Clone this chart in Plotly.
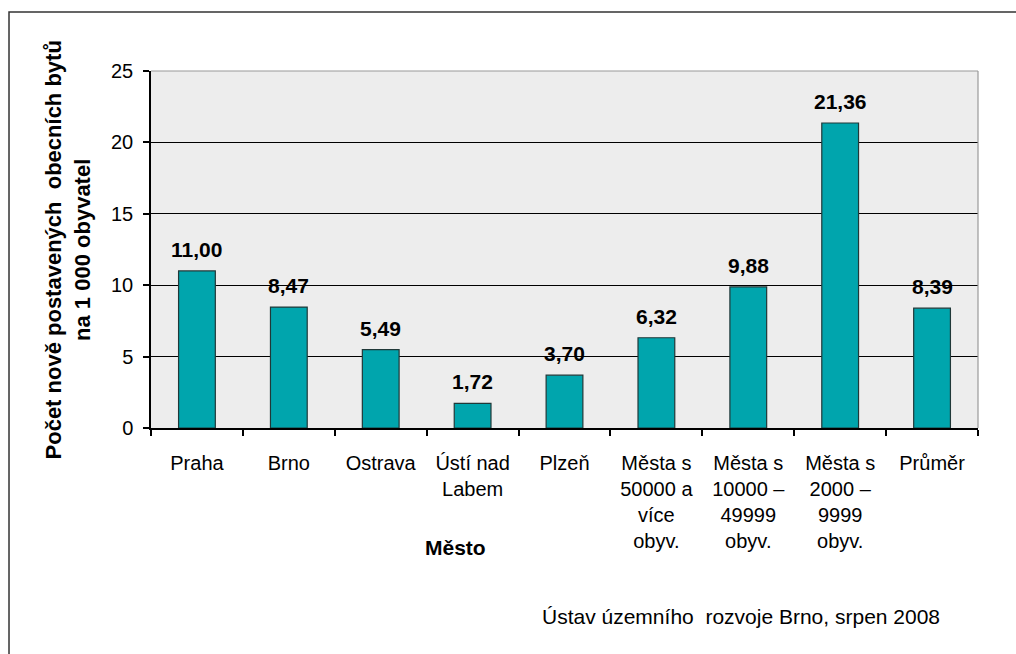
import plotly.graph_objects as go

categories = ["Praha", "Brno", "Ostrava", "Ústí nad<br>Labem", "Plzeň",
              "Města s<br>50000 a<br>více<br>obyv.",
              "Města s<br>10000 –<br>49999<br>obyv.",
              "Města s<br>2000 –<br>9999<br>obyv.",
              "Průměr"]
values = [11.00, 8.47, 5.49, 1.72, 3.70, 6.32, 9.88, 21.36, 8.39]
y_ticks = [0, 5, 10, 15, 20, 25]

labels = [f"{v:.2f}".replace(".", ",") for v in values]
FONT = "Liberation Sans, Arial, sans-serif"

fig = go.Figure()
fig.add_trace(go.Bar(
    x=categories, y=values, width=0.4,
    marker=dict(color="#00A5AD", line=dict(color="#203838", width=1.2)),
    hoverinfo="skip",
))

annotations = []
for c, v, t in zip(categories, values, labels):
    annotations.append(dict(x=c, y=v, text=f"<b>{t}</b>", showarrow=False,
                            yanchor="bottom", yshift=8,
                            font=dict(family=FONT, size=21, color="black")))
annotations.append(dict(xref="paper", yref="paper", x=-0.1004, y=0.5,
                        text="<b>Počet nově postavených  obecních bytů<br>na 1 000 obyvatel</b>",
                        textangle=-90, showarrow=False, xanchor="center", yanchor="middle",
                        font=dict(family=FONT, size=22, color="black")))
annotations.append(dict(xref="paper", yref="paper", x=0.368, y=-0.336,
                        text="<b>Město</b>", showarrow=False,
                        xanchor="center", yanchor="middle",
                        font=dict(family=FONT, size=21, color="black")))
annotations.append(dict(xref="paper", yref="paper", x=0.713, y=-0.527,
                        text="Ústav územního  rozvoje Brno, srpen 2008", showarrow=False,
                        xanchor="center", yanchor="middle",
                        font=dict(family=FONT, size=21, color="black")))

shapes = [
    dict(type="rect", xref="paper", yref="paper", x0=-0.1717, x1=1.2, y0=-0.9, y1=1.165,
         line=dict(color="#333333", width=1.5), layer="below"),
    dict(type="line", xref="paper", yref="paper", x0=0, x1=1, y0=1, y1=1,
         line=dict(color="#999999", width=1.2), layer="above"),
    dict(type="line", xref="paper", yref="paper", x0=1, x1=1, y0=0, y1=1,
         line=dict(color="#999999", width=1.2), layer="above"),
]

fig.update_layout(
    width=1016, height=654,
    margin=dict(l=151, r=38, t=71, b=226),
    paper_bgcolor="white", plot_bgcolor="#ededed",
    showlegend=False,
    font=dict(family=FONT, size=20, color="black"),
    annotations=annotations, shapes=shapes,
)
fig.update_xaxes(
    type="category", showline=True, linecolor="black", linewidth=1.5,
    ticks="outside", tickson="boundaries", ticklen=6, tickcolor="black", tickwidth=1.5,
    tickfont=dict(family=FONT, size=20, color="black"), showgrid=False,
    ticklabelstandoff=16,
)
fig.update_yaxes(
    range=[0, 25], tickvals=y_ticks, showline=True, linecolor="black", linewidth=1.5,
    ticks="outside", ticklen=6, tickcolor="black", tickwidth=1.5,
    showgrid=True, gridcolor="black", gridwidth=1.2, zeroline=False,
    tickfont=dict(family=FONT, size=20, color="black"), ticklabelstandoff=6,
)

fig.write_html("out.html")
